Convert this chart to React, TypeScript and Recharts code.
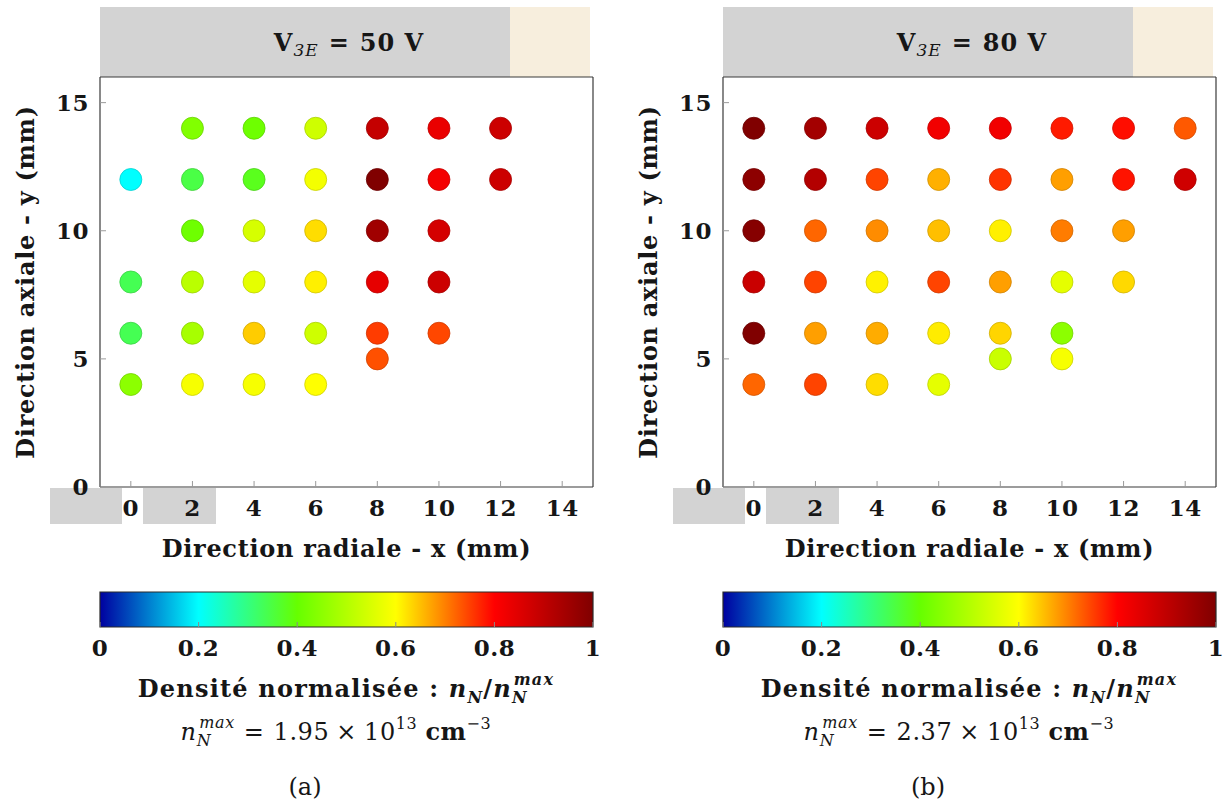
import React from 'react';
import { ScatterChart, Scatter, XAxis, YAxis, ReferenceArea, ComposedChart } from 'recharts';

const FONT = '"DejaVu Serif", serif';
const TEXT = '#161616';

// Axes
const xTicks = [0, 2, 4, 6, 8, 10, 12, 14];
const yTicks = [0, 5, 10, 15];
const xDomain: [number, number] = [-1, 15];
const yDomain: [number, number] = [0, 16];

// Measurement grid
const gridX = [0, 2, 4, 6, 8, 10, 12, 14];
const gridY = [14, 12, 10, 8, 6, 5, 4];

// Normalised density n_N / n_N^max, panel (a) V3E = 50 V (rows follow gridY, columns gridX)
const densityA: (number | null)[][] = [
  [null, 0.435, 0.41, 0.536, 0.893, 0.833, 0.88, null],
  [0.2, 0.345, 0.377, 0.586, 1.0, 0.817, 0.88, null],
  [null, 0.41, 0.546, 0.627, 0.95, 0.868, null, null],
  [0.335, 0.51, 0.566, 0.612, 0.84, 0.88, null, null],
  [0.335, 0.485, 0.64, 0.536, 0.753, 0.744, null, null],
  [null, null, null, null, 0.737, null, null, null],
  [0.45, 0.59, 0.59, 0.6, null, null, null, null],
];

// Panel (b) V3E = 80 V
const densityB: (number | null)[][] = [
  [1.0, 0.945, 0.88, 0.82, 0.82, 0.78, 0.79, 0.73],
  [0.98, 0.92, 0.747, 0.662, 0.76, 0.675, 0.785, 0.875],
  [0.99, 0.72, 0.69, 0.65, 0.612, 0.703, 0.675, null],
  [0.885, 0.747, 0.61, 0.747, 0.675, 0.566, 0.63, null],
  [1.0, 0.675, 0.665, 0.615, 0.633, 0.45, null, null],
  [null, null, null, null, 0.53, 0.59, null, null],
  [0.72, 0.747, 0.627, 0.566, null, null, null, null],
];

// Colour bar
const cbTicks = [0, 0.2, 0.4, 0.6, 0.8, 1];
const cmapPos = [0, 0.2, 0.4, 0.6, 0.8, 1];
const cmapColors = ['#0000a0', '#00ffff', '#66ff00', '#ffff00', '#ff0000', '#800000'];

// Labels
const voltages = ['50', '80'];
const nMaxMantissa = ['1.95', '2.37'];
const nMaxExponent = ['13', '13'];
const panelLetters = ['(a)', '(b)'];

function hexToRgb(h: string) {
  const n = parseInt(h.slice(1), 16);
  return [(n >> 16) & 255, (n >> 8) & 255, n & 255];
}
function toHex(c: number[]) {
  return '#' + c.map((v) => Math.round(Math.max(0, Math.min(255, v))).toString(16).padStart(2, '0')).join('');
}
function cmap(v: number) {
  for (let i = 0; i < cmapPos.length - 1; i++) {
    if (v <= cmapPos[i + 1] || i === cmapPos.length - 2) {
      const t = Math.max(0, Math.min(1, (v - cmapPos[i]) / (cmapPos[i + 1] - cmapPos[i])));
      const a = hexToRgb(cmapColors[i]);
      const b = hexToRgb(cmapColors[i + 1]);
      return toHex(a.map((x, k) => x + (b[k] - x) * t));
    }
  }
  return cmapColors[cmapColors.length - 1];
}
function darken(hex: string) {
  return toHex(hexToRgb(hex).map((x) => x * 0.82));
}

function buildPoints(rows: (number | null)[][]) {
  const pts: { x: number; y: number; v: number }[] = [];
  rows.forEach((row, i) =>
    row.forEach((v, j) => {
      if (v != null) pts.push({ x: gridX[j], y: gridY[i], v });
    })
  );
  return pts;
}

const Dot = (props: any) => {
  const { cx, cy, payload } = props;
  if (cx == null || cy == null) return null;
  const c = cmap(payload.v);
  return <circle cx={cx} cy={cy} r={11} fill={c} stroke={darken(c)} strokeWidth={0.8} />;
};
const Nothing = () => <g />;

const tickStyle = { fontSize: 23, fontWeight: 700, fontFamily: FONT, fill: TEXT, letterSpacing: 0.5 };
const AXIS = '#3a3a3a';
const TICK = '#9a9a9a';
const labelFont = { fontSize: 24, fontWeight: 700, fontFamily: FONT, fill: TEXT, letterSpacing: 0.7 };

function Panel({ idx, left }: { idx: number; left: number }) {
  const rows = idx === 0 ? densityA : densityB;
  const data = buildPoints(rows);
  const cbData = cbTicks.map((t) => ({ t, c: t }));
  const gid = `jet${idx}`;
  return (
    <div style={{ position: 'absolute', left, top: 0, width: 615, height: 807 }}>
      {/* header band */}
      <div style={{ position: 'absolute', left: 100, top: 7, width: 410, height: 70, background: '#d3d3d3' }} />
      <div style={{ position: 'absolute', left: 510, top: 7, width: 80, height: 70, background: '#f7eedd' }} />
      {/* grey boxes behind tick labels */}
      <div style={{ position: 'absolute', left: 50, top: 488, width: 72, height: 36, background: '#d3d3d3' }} />
      <div style={{ position: 'absolute', left: 143, top: 488, width: 73, height: 36, background: '#d3d3d3' }} />

      <div style={{ position: 'absolute', left: 0, top: 0 }}>
        <ScatterChart width={615} height={575} margin={{ top: 76, right: 21, bottom: 15, left: 5 }}>
          <XAxis
            xAxisId="b"
            type="number"
            dataKey="x"
            orientation="bottom"
            domain={xDomain}
            ticks={xTicks}
            interval={0}
            allowDataOverflow
            height={73}
            tickSize={-6}
            tickMargin={19}
            axisLine={{ stroke: AXIS, strokeWidth: 1.2 }}
            tickLine={{ stroke: TICK }}
            tick={tickStyle}
            label={{
              value: 'Direction radiale - x (mm)',
              position: 'insideBottom',
              offset: 3,
              ...labelFont,
            }}
          />
          <XAxis
            xAxisId="t"
            type="number"
            dataKey="x"
            orientation="top"
            domain={xDomain}
            ticks={xTicks}
            interval={0}
            allowDataOverflow
            height={1}
            tickSize={-6}
            tick={false}
            axisLine={{ stroke: AXIS, strokeWidth: 1.2 }}
            tickLine={{ stroke: TICK }}
          />
          <YAxis
            yAxisId="l"
            type="number"
            dataKey="y"
            orientation="left"
            domain={yDomain}
            ticks={yTicks}
            interval={0}
            allowDataOverflow
            width={95}
            tickSize={-6}
            tickMargin={17}
            axisLine={{ stroke: AXIS, strokeWidth: 1.2 }}
            tickLine={{ stroke: TICK }}
            tick={tickStyle}
            label={{
              value: 'Direction axiale - y (mm)',
              angle: -90,
              position: 'insideLeft',
              offset: 20,
              ...labelFont,
              style: { textAnchor: 'middle' },
            }}
          />
          <YAxis
            yAxisId="r"
            type="number"
            dataKey="y"
            orientation="right"
            domain={yDomain}
            ticks={yTicks}
            interval={0}
            allowDataOverflow
            width={1}
            tickSize={-6}
            tick={false}
            axisLine={{ stroke: AXIS, strokeWidth: 1.2 }}
            tickLine={{ stroke: TICK }}
          />
          <Scatter xAxisId="t" yAxisId="r" data={data} shape={Nothing} isAnimationActive={false} legendType="none" />
          <Scatter xAxisId="b" yAxisId="l" data={data} shape={Dot} isAnimationActive={false} />
        </ScatterChart>
      </div>

      <div style={{ position: 'absolute', left: 0, top: 560 }}>
        <ComposedChart width={615} height={107} data={cbData} margin={{ top: 31, right: 22, bottom: 0, left: 100 }}>
          <defs>
            <linearGradient id={gid} x1="0" y1="0" x2="1" y2="0">
              {cmapPos.map((p, i) => (
                <stop key={i} offset={`${p * 100}%`} stopColor={cmapColors[i]} />
              ))}
            </linearGradient>
          </defs>
          <YAxis yAxisId="c" type="number" dataKey="c" domain={[0, 1]} hide />
          <ReferenceArea
            xAxisId="cb"
            yAxisId="c"
            x1={0}
            x2={1}
            y1={0}
            y2={1}
            fill={`url(#${gid})`}
            fillOpacity={1}
            stroke="#2a2a2a"
            strokeWidth={1.2}
            ifOverflow="visible"
          />
          <XAxis
            xAxisId="cb"
            type="number"
            dataKey="t"
            domain={[0, 1]}
            ticks={cbTicks}
            interval={0}
            allowDataOverflow
            height={40}
            tickSize={-5}
            tickMargin={18}
            axisLine={false}
            tickLine={{ stroke: '#8a8a8a' }}
            tick={tickStyle}
          />
          <XAxis
            xAxisId="cbt"
            type="number"
            dataKey="t"
            domain={[0, 1]}
            ticks={cbTicks}
            interval={0}
            allowDataOverflow
            orientation="top"
            height={1}
            tickSize={-5}
            tick={false}
            axisLine={false}
            tickLine={{ stroke: '#8a8a8a' }}
          />
          <Scatter xAxisId="cb" yAxisId="c" dataKey="c" shape={Nothing} isAnimationActive={false} legendType="none" />
          <Scatter xAxisId="cbt" yAxisId="c" dataKey="c" shape={Nothing} isAnimationActive={false} legendType="none" />
        </ComposedChart>
      </div>

      <svg width={615} height={807} style={{ position: 'absolute', left: 0, top: 0, pointerEvents: 'none' }}>
        <text x={349} y={51} textAnchor="middle" fontFamily={FONT} fontSize={24} fontWeight={700} fill={TEXT} letterSpacing={1}>
          V
          <tspan fontStyle="italic" fontWeight={400} fontSize={17} dy={5}>3E</tspan>
          <tspan dy={-5} dx={10}>=</tspan>
          <tspan dx={10}>{`${voltages[idx]} V`}</tspan>
        </text>
        <text x={346} y={697} textAnchor="middle" fontFamily={FONT} fontSize={24} fontWeight={700} fill={TEXT} letterSpacing={1.2}>
          {'Densité normalisée : '}
          <tspan fontStyle="italic">n</tspan>
          <tspan fontStyle="italic" fontSize={16} dy={6}>N</tspan>
          <tspan dy={-6}>/</tspan>
          <tspan fontStyle="italic">n</tspan>
          <tspan fontStyle="italic" fontSize={16} dy={6}>N</tspan>
          <tspan fontStyle="italic" fontSize={16} dx={-14} dy={-18}>max</tspan>
        </text>
        <text x={336} y={740} textAnchor="middle" fontFamily={FONT} fontSize={24} fill={TEXT} letterSpacing={0.6}>
          <tspan fontStyle="italic">n</tspan>
          <tspan fontStyle="italic" fontSize={16} dy={6}>N</tspan>
          <tspan fontStyle="italic" fontSize={16} dx={-12} dy={-18}>max</tspan>
          <tspan dy={12} dx={9}>=</tspan>
          <tspan dx={9}>{nMaxMantissa[idx]}</tspan>
          <tspan dx={7}>×</tspan>
          <tspan dx={7}>10</tspan>
          <tspan fontSize={16} dy={-11}>{nMaxExponent[idx]}</tspan>
          <tspan dy={11} dx={8} fontWeight={700}>cm</tspan>
          <tspan fontSize={16} dy={-11}>−3</tspan>
        </text>
        <text x={305} y={795} textAnchor="middle" fontFamily={FONT} fontSize={24} fill={TEXT}>
          {panelLetters[idx]}
        </text>
      </svg>
    </div>
  );
}

export default function App() {
  return (
    <div style={{ position: 'absolute', left: 0, top: 0, width: 1231, height: 807, background: '#fff', overflow: 'hidden' }}>
      <Panel idx={0} left={0} />
      <Panel idx={1} left={623} />
    </div>
  );
}
